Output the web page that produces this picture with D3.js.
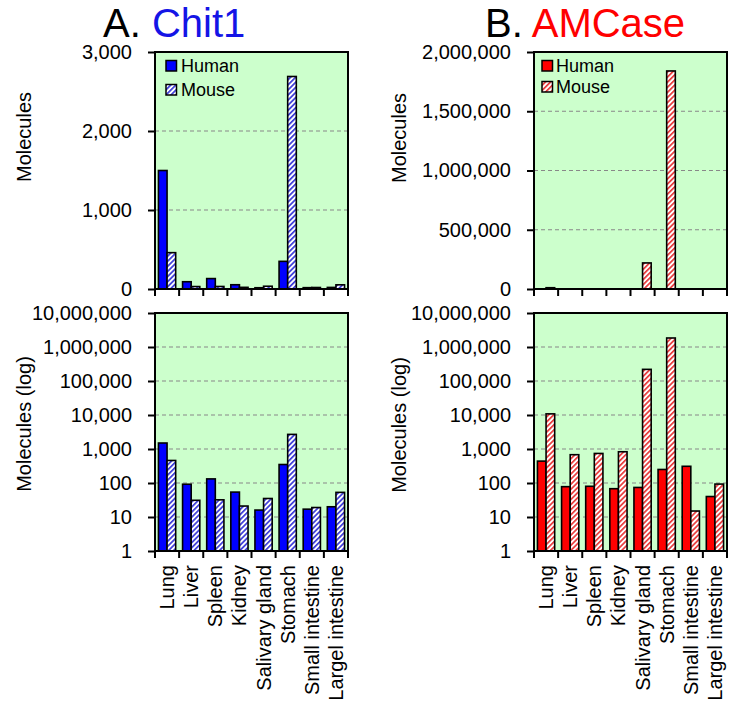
<!DOCTYPE html>
<html>
<head>
<meta charset="utf-8">
<script src="https://cdn.jsdelivr.net/npm/d3@7"></script>
<style>
  html, body { margin: 0; padding: 0; background: #ffffff; }
  svg { display: block; }
  text { font-family: "Liberation Sans", Arial, sans-serif; }
</style>
</head>
<body>
<svg id="chart" width="741" height="705"></svg>
<script>
// ---------- data ----------
const categories = ["Lung", "Liver", "Spleen", "Kidney", "Salivary gland", "Stomach", "Small intestine", "Largel intestine"];
const seriesNames = ["Human", "Mouse"];
const chit1Human = [1500, 92, 132, 54, 16, 350, 17, 20];
const chit1Mouse = [460, 31, 32, 21, 35, 2690, 19, 53];
const amcaseHuman = [440, 78, 80, 68, 74, 250, 310, 40];
const amcaseMouse = [10800, 680, 740, 830, 220000, 1840000, 15, 93];
const chit1LinearTicks = [0, 1000, 2000, 3000];
const amcaseLinearTicks = [0, 500000, 1000000, 1500000, 2000000];
const logTicks = [1, 10, 100, 1000, 10000, 100000, 1000000, 10000000];

// ---------- drawing ----------
const svg = d3.select("#chart");
const defs = svg.append("defs");

function hatch(id, color) {
  const p = defs.append("pattern")
    .attr("id", id)
    .attr("patternUnits", "userSpaceOnUse")
    .attr("width", 3.6).attr("height", 3.6)
    .attr("patternTransform", "rotate(45)");
  p.append("rect").attr("width", 3.6).attr("height", 3.6).attr("fill", "#ffffff");
  p.append("rect").attr("x", 0).attr("y", 0).attr("width", 1.7).attr("height", 3.6).attr("fill", color);
}
hatch("hatchBlue", "#3a3ad8");
hatch("hatchRed", "#e83a3a");

const fmt = d3.format(",");

function panel(o) {
  const g = svg.append("g");
  const x = d3.scaleBand().domain(categories).range([o.x0, o.x1]).padding(0);
  const xs = d3.scaleBand().domain(seriesNames).range([0, x.bandwidth()]).paddingInner(0).paddingOuter(0.4);
  const y = o.log
    ? d3.scaleLog().domain([1, 1e7]).range([o.y1, o.y0])
    : d3.scaleLinear().domain([0, o.ticks[o.ticks.length - 1]]).range([o.y1, o.y0]);
  const base = o.log ? 1 : 0;

  // background
  g.append("rect").attr("x", o.x0).attr("y", o.y0)
    .attr("width", o.x1 - o.x0).attr("height", o.y1 - o.y0)
    .attr("fill", "#ccffcc");

  // gridlines
  g.append("g").selectAll("line")
    .data(o.ticks.filter((d, i) => i > 0 && i < o.ticks.length - 1))
    .join("line")
    .attr("x1", o.x0).attr("x2", o.x1)
    .attr("y1", d => y(d)).attr("y2", d => y(d))
    .attr("stroke", "#888888").attr("stroke-width", 1.2)
    .attr("stroke-dasharray", "4,3");

  // bars
  const data = [];
  categories.forEach((c, i) => {
    data.push({ cat: c, s: "Human", v: o.human[i] });
    data.push({ cat: c, s: "Mouse", v: o.mouse[i] });
  });
  g.append("g").selectAll("rect")
    .data(data)
    .join("rect")
    .attr("x", d => x(d.cat) + xs(d.s))
    .attr("width", xs.bandwidth())
    .attr("y", d => y(d.v))
    .attr("height", d => y(base) - y(d.v))
    .attr("fill", d => d.s === "Human" ? o.solid : `url(#${o.pattern})`)
    .attr("stroke", "#000").attr("stroke-width", 1.6);

  // frame
  g.append("rect").attr("x", o.x0).attr("y", o.y0)
    .attr("width", o.x1 - o.x0).attr("height", o.y1 - o.y0)
    .attr("fill", "none").attr("stroke", "#000").attr("stroke-width", 2);

  // y axis
  const ya = g.append("g").attr("transform", `translate(${o.x0},0)`)
    .call(d3.axisLeft(y).tickValues(o.ticks).tickFormat(fmt).tickSize(7).tickPadding(16));
  ya.select(".domain").remove();
  ya.selectAll(".tick line").attr("stroke", "#000").attr("stroke-width", 2);
  ya.selectAll(".tick text").attr("font-size", 20).attr("fill", "#000")
    .attr("font-family", '"Liberation Sans", Arial, sans-serif');

  // x tick marks at category boundaries
  const bounds = categories.map(c => x(c)).concat([x(categories[categories.length - 1]) + x.bandwidth()]);
  g.append("g").selectAll("line").data(bounds).join("line")
    .attr("x1", d => d).attr("x2", d => d)
    .attr("y1", o.y1).attr("y2", o.y1 + 7)
    .attr("stroke", "#000").attr("stroke-width", 2);

  // category labels
  if (o.labels) {
    g.append("g").selectAll("text").data(categories).join("text")
      .attr("transform", d => `translate(${x(d) + x.bandwidth() / 2},${o.y1 + 14}) rotate(-90)`)
      .attr("text-anchor", "end")
      .attr("dy", "0.35em")
      .attr("font-size", 20)
      .text(d => d);
  }

  // y label
  g.append("text")
    .attr("transform", `translate(${o.yLabelX},${o.yLabelY}) rotate(-90)`)
    .attr("text-anchor", "middle")
    .attr("font-size", 20)
    .text(o.yLabel);

  // legend
  if (o.legend) {
    const L = o.legend;
    seriesNames.forEach((s, i) => {
      const by = L.rows[i];
      g.append("rect").attr("x", L.sx).attr("y", by - 10.5).attr("width", 10.5).attr("height", 10.5)
        .attr("fill", s === "Human" ? o.solid : `url(#${o.pattern})`)
        .attr("stroke", "#000").attr("stroke-width", 1.5);
      g.append("text").attr("x", L.tx).attr("y", by + 1).attr("font-size", 18).text(s);
    });
  }
}

// titles
const t1 = svg.append("text").attr("x", 103).attr("y", 37).attr("font-size", 40);
t1.append("tspan").attr("fill", "#000").text("A. ");
t1.append("tspan").attr("fill", "#1414e6").text("Chit1");
const t2 = svg.append("text").attr("x", 485).attr("y", 37).attr("font-size", 40);
t2.append("tspan").attr("fill", "#000").text("B. ");
t2.append("tspan").attr("fill", "#ff0000").text("AMCase");

panel({ x0: 155, x1: 348, y0: 52, y1: 289, log: false, ticks: chit1LinearTicks,
  human: chit1Human, mouse: chit1Mouse, solid: "#0000ff", pattern: "hatchBlue",
  labels: false, yLabel: "Molecules", yLabelX: 31, yLabelY: 137,
  legend: { sx: 166, tx: 181, rows: [71, 95] } });
panel({ x0: 155, x1: 348, y0: 313, y1: 551, log: true, ticks: logTicks,
  human: chit1Human, mouse: chit1Mouse, solid: "#0000ff", pattern: "hatchBlue",
  labels: true, yLabel: "Molecules (log)", yLabelX: 31, yLabelY: 424 });
panel({ x0: 534, x1: 727, y0: 52, y1: 289, log: false, ticks: amcaseLinearTicks,
  human: amcaseHuman, mouse: amcaseMouse, solid: "#ff0000", pattern: "hatchRed",
  labels: false, yLabel: "Molecules", yLabelX: 406, yLabelY: 138,
  legend: { sx: 542, tx: 556, rows: [71, 92] } });
panel({ x0: 534, x1: 727, y0: 313, y1: 551, log: true, ticks: logTicks,
  human: amcaseHuman, mouse: amcaseMouse, solid: "#ff0000", pattern: "hatchRed",
  labels: true, yLabel: "Molecules (log)", yLabelX: 406, yLabelY: 425 });
</script>
</body>
</html>
